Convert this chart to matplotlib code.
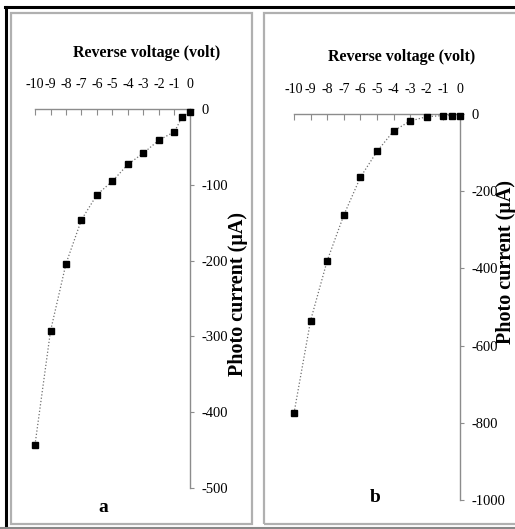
import matplotlib
matplotlib.use('Agg')
import matplotlib.pyplot as plt
from matplotlib.patches import Rectangle
from matplotlib.lines import Line2D

plt.rcParams['font.family'] = ['Liberation Serif', 'DejaVu Serif']
plt.rcParams['axes.unicode_minus'] = False

# data
volt = [-10, -9, -8, -7, -6, -5, -4, -3, -2, -1, -0.5, 0]
cur_a = [-443, -293, -204, -146, -113, -95, -73, -58, -41, -30, -10, -4]
cur_b = [-775, -535, -380, -262, -164, -97, -44, -18, -7, -4, -4, -4]
xticks = list(range(-10, 1))
yticks_a = [0, -100, -200, -300, -400, -500]
yticks_b = [0, -200, -400, -600, -800, -1000]

W, H = 515, 529
fig = plt.figure(figsize=(W / 100, H / 100), dpi=100)


def box(x0, y0, x1, y1):
    # pixel box -> figure fraction [left, bottom, width, height]
    return [x0 / W, 1 - y1 / H, (x1 - x0) / W, (y1 - y0) / H]


# frames around the panels
fig.add_artist(Line2D([5 / W, 1], [1 - 7 / H, 1 - 7 / H], color='black', lw=2.2))
fig.add_artist(Line2D([6 / W, 6 / W], [1 - 7 / H, 0], color='black', lw=2.2))
fig.add_artist(Line2D([0, 1], [1 - 527.5 / H, 1 - 527.5 / H], color='#888888', lw=1.5))
for l, r in [(11, 252), (264, 540)]:
    fig.add_artist(Rectangle((l / W, 1 - 524 / H), (r - l) / W, 511 / H,
                             fill=False, ec='#b0b0b0', lw=1.6,
                             transform=fig.transFigure))

grey = '#8c8c8c'


def panel(rect, cur, yt, ylim, title_xy, ylab_xy, letter, letter_xy):
    ax = fig.add_axes(rect)
    ax.plot(volt, cur, color='#707070', ls=':', lw=0.9, clip_on=False)
    ax.plot(volt, cur, ls='none', marker='s', ms=4.5, color='black',
            clip_on=False, zorder=5)
    ax.set_xlim(-10, 0)
    ax.set_ylim(ylim, 0)
    ax.patch.set_alpha(0)
    for s in ['left', 'bottom']:
        ax.spines[s].set_visible(False)
    for s in ['top', 'right']:
        ax.spines[s].set_color(grey)
        ax.spines[s].set_linewidth(1.0)
    ax.xaxis.tick_top()
    ax.yaxis.tick_right()
    ax.set_xticks(xticks)
    ax.set_xticklabels([str(v) for v in xticks])
    ax.set_yticks(yt)
    ax.set_yticklabels([str(v) for v in yt])
    ax.tick_params(axis='x', direction='in', length=4, color=grey, pad=13,
                   labelsize=10)
    ax.tick_params(axis='y', direction='out', length=3, color=grey, pad=5,
                   labelsize=10.5)
    fig.text(title_xy[0] / W, 1 - title_xy[1] / H, 'Reverse voltage (volt)',
             ha='center', va='center', fontsize=11.5, fontweight='bold')
    fig.text(ylab_xy[0] / W, 1 - ylab_xy[1] / H, 'Photo current (μA)',
             ha='center', va='center', rotation=90, fontsize=14.5,
             fontweight='bold')
    fig.text(letter_xy[0] / W, 1 - letter_xy[1] / H, letter,
             ha='center', va='center', fontsize=14, fontweight='bold')
    return ax


panel(box(35, 109, 190, 488), cur_a, yticks_a, -500,
      (147, 53), (238, 294), 'a', (103, 507))
panel(box(294, 114, 460, 500), cur_b, yticks_b, -1000,
      (402, 57), (506, 262), 'b', (375, 497))

fig.savefig('out.png', dpi=100)
